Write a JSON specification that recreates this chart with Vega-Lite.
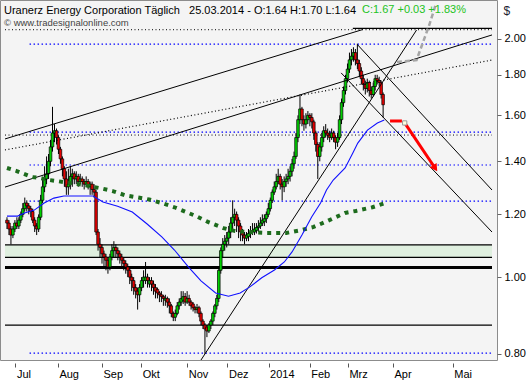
{
"$schema":"https://vega.github.io/schema/vega-lite/v6.json",
"width":497,"height":360,
"autosize":{"type":"none"},
"padding":{"left":0,"top":0,"right":34,"bottom":20},
"background":"white",
"config":{"view":{"fill":"#f4f4f4","stroke":"#8c8c8c","strokeWidth":1},"font":"Liberation Sans"},
"title":{"text":"\u00a0\u00a0\u00a0\u00a0Uranerz Energy Corporation Täglich\u00a0\u00a0 25.03.2014 - O:1.64 H:1.70 L:1.64","subtitle":"© www.tradesignalonline.com","anchor":"start","orient":"top","frame":"group","offset":0,"dx":4,"dy":27,"font":"Liberation Sans","fontSize":11,"fontWeight":"normal","color":"#000000","subtitleFont":"Liberation Sans","subtitleFontSize":9.5,"subtitleColor":"#444444","subtitlePadding":2},
"datasets":{
"bars":[
{"i":0,"o":1.18,"h":1.19,"l":1.15,"c":1.17},{"i":1,"o":1.17,"h":1.18,"l":1.13,"c":1.15},{"i":2,"o":1.15,"h":1.16,"l":1.10,"c":1.13},{"i":3,"o":1.13,"h":1.16,"l":1.12,"c":1.15},{"i":4,"o":1.15,"h":1.18,"l":1.14,"c":1.17},{"i":5,"o":1.17,"h":1.19,"l":1.15,"c":1.16},{"i":6,"o":1.16,"h":1.19,"l":1.15,"c":1.18},{"i":7,"o":1.18,"h":1.21,"l":1.17,"c":1.20},{"i":8,"o":1.20,"h":1.24,"l":1.19,"c":1.22},{"i":9,"o":1.22,"h":1.26,"l":1.21,"c":1.24},
{"i":10,"o":1.24,"h":1.25,"l":1.21,"c":1.23},{"i":11,"o":1.23,"h":1.24,"l":1.20,"c":1.22},{"i":12,"o":1.22,"h":1.23,"l":1.19,"c":1.21},{"i":13,"o":1.21,"h":1.22,"l":1.17,"c":1.18},{"i":14,"o":1.18,"h":1.19,"l":1.14,"c":1.16},{"i":15,"o":1.16,"h":1.17,"l":1.13,"c":1.15},{"i":16,"o":1.15,"h":1.20,"l":1.14,"c":1.19},{"i":17,"o":1.19,"h":1.27,"l":1.18,"c":1.25},{"i":18,"o":1.25,"h":1.33,"l":1.24,"c":1.30},{"i":19,"o":1.30,"h":1.38,"l":1.28,"c":1.33},
{"i":20,"o":1.33,"h":1.42,"l":1.31,"c":1.35},{"i":21,"o":1.35,"h":1.43,"l":1.33,"c":1.40},{"i":22,"o":1.40,"h":1.49,"l":1.38,"c":1.46},{"i":23,"o":1.46,"h":1.64,"l":1.44,"c":1.52},{"i":24,"o":1.52,"h":1.56,"l":1.48,"c":1.53},{"i":25,"o":1.53,"h":1.54,"l":1.47,"c":1.50},{"i":26,"o":1.50,"h":1.51,"l":1.43,"c":1.45},{"i":27,"o":1.45,"h":1.46,"l":1.39,"c":1.41},{"i":28,"o":1.41,"h":1.42,"l":1.34,"c":1.37},{"i":29,"o":1.37,"h":1.38,"l":1.30,"c":1.33},
{"i":30,"o":1.33,"h":1.36,"l":1.27,"c":1.30},{"i":31,"o":1.30,"h":1.37,"l":1.27,"c":1.31},{"i":32,"o":1.31,"h":1.38,"l":1.29,"c":1.34},{"i":33,"o":1.34,"h":1.37,"l":1.30,"c":1.35},{"i":34,"o":1.35,"h":1.36,"l":1.31,"c":1.33},{"i":35,"o":1.33,"h":1.36,"l":1.31,"c":1.34},{"i":36,"o":1.34,"h":1.35,"l":1.30,"c":1.32},{"i":37,"o":1.32,"h":1.35,"l":1.31,"c":1.33},{"i":38,"o":1.33,"h":1.34,"l":1.30,"c":1.32},{"i":39,"o":1.32,"h":1.33,"l":1.29,"c":1.31},
{"i":40,"o":1.31,"h":1.34,"l":1.30,"c":1.32},{"i":41,"o":1.32,"h":1.33,"l":1.29,"c":1.30},{"i":42,"o":1.30,"h":1.32,"l":1.27,"c":1.31},{"i":43,"o":1.31,"h":1.32,"l":1.27,"c":1.29},{"i":44,"o":1.29,"h":1.31,"l":1.26,"c":1.28},{"i":45,"o":1.28,"h":1.29,"l":1.13,"c":1.14},{"i":46,"o":1.14,"h":1.15,"l":1.08,"c":1.10},{"i":47,"o":1.10,"h":1.12,"l":1.06,"c":1.09},{"i":48,"o":1.09,"h":1.10,"l":1.04,"c":1.07},{"i":49,"o":1.07,"h":1.08,"l":1.03,"c":1.06},
{"i":50,"o":1.06,"h":1.07,"l":1.02,"c":1.05},{"i":51,"o":1.05,"h":1.06,"l":1.01,"c":1.03},{"i":52,"o":1.03,"h":1.07,"l":1.02,"c":1.06},{"i":53,"o":1.06,"h":1.10,"l":1.05,"c":1.08},{"i":54,"o":1.08,"h":1.11,"l":1.06,"c":1.09},{"i":55,"o":1.09,"h":1.10,"l":1.06,"c":1.08},{"i":56,"o":1.08,"h":1.09,"l":1.05,"c":1.07},{"i":57,"o":1.07,"h":1.08,"l":1.04,"c":1.06},{"i":58,"o":1.06,"h":1.07,"l":1.03,"c":1.05},{"i":59,"o":1.05,"h":1.06,"l":1.02,"c":1.04},
{"i":60,"o":1.04,"h":1.05,"l":1.01,"c":1.03},{"i":61,"o":1.03,"h":1.04,"l":1.00,"c":1.02},{"i":62,"o":1.02,"h":1.03,"l":0.98,"c":1.00},{"i":63,"o":1.00,"h":1.01,"l":0.96,"c":0.99},{"i":64,"o":0.99,"h":1.00,"l":0.95,"c":0.97},{"i":65,"o":0.97,"h":0.98,"l":0.94,"c":0.96},{"i":66,"o":0.96,"h":0.97,"l":0.91,"c":0.95},{"i":67,"o":0.95,"h":0.98,"l":0.93,"c":0.97},{"i":68,"o":0.97,"h":1.00,"l":0.96,"c":0.99},{"i":69,"o":0.99,"h":1.02,"l":0.97,"c":1.00},
{"i":70,"o":0.99,"h":1.045,"l":0.98,"c":1.00},{"i":71,"o":1.00,"h":1.01,"l":0.97,"c":0.99},{"i":72,"o":0.98,"h":1.00,"l":0.97,"c":0.99},{"i":73,"o":0.99,"h":1.00,"l":0.96,"c":0.98},{"i":74,"o":0.98,"h":0.99,"l":0.95,"c":0.97},{"i":75,"o":0.97,"h":0.98,"l":0.94,"c":0.96},{"i":76,"o":0.965,"h":0.97,"l":0.94,"c":0.955},{"i":77,"o":0.955,"h":0.96,"l":0.93,"c":0.95},{"i":78,"o":0.95,"h":0.96,"l":0.93,"c":0.945},{"i":79,"o":0.945,"h":0.95,"l":0.92,"c":0.94},
{"i":80,"o":0.935,"h":0.95,"l":0.92,"c":0.94},{"i":81,"o":0.94,"h":0.945,"l":0.915,"c":0.93},{"i":82,"o":0.93,"h":0.94,"l":0.90,"c":0.92},{"i":83,"o":0.92,"h":0.925,"l":0.89,"c":0.90},{"i":84,"o":0.90,"h":0.905,"l":0.88,"c":0.89},{"i":85,"o":0.89,"h":0.91,"l":0.88,"c":0.90},{"i":86,"o":0.90,"h":0.93,"l":0.895,"c":0.92},{"i":87,"o":0.92,"h":0.94,"l":0.91,"c":0.93},{"i":88,"o":0.93,"h":0.96,"l":0.92,"c":0.94},{"i":89,"o":0.935,"h":0.96,"l":0.925,"c":0.945},
{"i":90,"o":0.945,"h":0.955,"l":0.92,"c":0.93},{"i":91,"o":0.93,"h":0.96,"l":0.925,"c":0.94},{"i":92,"o":0.94,"h":0.95,"l":0.92,"c":0.93},{"i":93,"o":0.93,"h":0.935,"l":0.91,"c":0.92},{"i":94,"o":0.925,"h":0.93,"l":0.905,"c":0.915},{"i":95,"o":0.915,"h":0.92,"l":0.90,"c":0.91},{"i":96,"o":0.91,"h":0.925,"l":0.90,"c":0.915},{"i":97,"o":0.915,"h":0.92,"l":0.89,"c":0.90},{"i":98,"o":0.90,"h":0.905,"l":0.87,"c":0.88},{"i":99,"o":0.88,"h":0.885,"l":0.86,"c":0.87},
{"i":100,"o":0.87,"h":0.875,"l":0.80,"c":0.86},{"i":101,"o":0.865,"h":0.87,"l":0.84,"c":0.855},{"i":102,"o":0.855,"h":0.875,"l":0.85,"c":0.87},{"i":103,"o":0.87,"h":0.885,"l":0.86,"c":0.88},{"i":104,"o":0.88,"h":0.905,"l":0.87,"c":0.90},{"i":105,"o":0.90,"h":0.925,"l":0.89,"c":0.92},{"i":106,"o":0.92,"h":0.95,"l":0.91,"c":0.94},{"i":107,"o":0.94,"h":1.03,"l":0.93,"c":1.02},{"i":108,"o":1.02,"h":1.09,"l":1.01,"c":1.08},{"i":109,"o":1.08,"h":1.12,"l":1.06,"c":1.10},
{"i":110,"o":1.10,"h":1.13,"l":1.08,"c":1.11},{"i":111,"o":1.11,"h":1.14,"l":1.09,"c":1.12},{"i":112,"o":1.12,"h":1.16,"l":1.10,"c":1.14},{"i":113,"o":1.14,"h":1.19,"l":1.12,"c":1.17},{"i":114,"o":1.17,"h":1.25,"l":1.15,"c":1.19},{"i":115,"o":1.19,"h":1.22,"l":1.16,"c":1.20},{"i":116,"o":1.20,"h":1.21,"l":1.14,"c":1.18},{"i":117,"o":1.18,"h":1.19,"l":1.12,"c":1.16},{"i":118,"o":1.16,"h":1.17,"l":1.11,"c":1.14},{"i":119,"o":1.14,"h":1.15,"l":1.11,"c":1.13},
{"i":120,"o":1.13,"h":1.14,"l":1.10,"c":1.12},{"i":121,"o":1.12,"h":1.14,"l":1.11,"c":1.13},{"i":122,"o":1.125,"h":1.15,"l":1.11,"c":1.135},{"i":123,"o":1.135,"h":1.16,"l":1.12,"c":1.14},{"i":124,"o":1.145,"h":1.17,"l":1.13,"c":1.14},{"i":125,"o":1.14,"h":1.17,"l":1.13,"c":1.15},{"i":126,"o":1.145,"h":1.17,"l":1.135,"c":1.155},{"i":127,"o":1.155,"h":1.18,"l":1.14,"c":1.16},{"i":128,"o":1.16,"h":1.19,"l":1.15,"c":1.17},{"i":129,"o":1.17,"h":1.20,"l":1.16,"c":1.18},
{"i":130,"o":1.175,"h":1.20,"l":1.16,"c":1.185},{"i":131,"o":1.185,"h":1.21,"l":1.17,"c":1.20},{"i":132,"o":1.20,"h":1.24,"l":1.19,"c":1.22},{"i":133,"o":1.22,"h":1.26,"l":1.21,"c":1.25},{"i":134,"o":1.25,"h":1.29,"l":1.24,"c":1.28},{"i":135,"o":1.28,"h":1.32,"l":1.27,"c":1.30},{"i":136,"o":1.30,"h":1.35,"l":1.29,"c":1.32},{"i":137,"o":1.32,"h":1.37,"l":1.31,"c":1.34},{"i":138,"o":1.34,"h":1.35,"l":1.29,"c":1.31},{"i":139,"o":1.31,"h":1.33,"l":1.25,"c":1.30},
{"i":140,"o":1.30,"h":1.34,"l":1.28,"c":1.32},{"i":141,"o":1.32,"h":1.35,"l":1.30,"c":1.33},{"i":142,"o":1.33,"h":1.37,"l":1.31,"c":1.34},{"i":143,"o":1.34,"h":1.38,"l":1.32,"c":1.36},{"i":144,"o":1.36,"h":1.41,"l":1.34,"c":1.39},{"i":145,"o":1.39,"h":1.44,"l":1.37,"c":1.42},{"i":146,"o":1.42,"h":1.52,"l":1.41,"c":1.50},{"i":147,"o":1.50,"h":1.60,"l":1.48,"c":1.58},{"i":148,"o":1.58,"h":1.70,"l":1.56,"c":1.63},{"i":149,"o":1.63,"h":1.64,"l":1.55,"c":1.58},
{"i":150,"o":1.58,"h":1.60,"l":1.53,"c":1.56},{"i":151,"o":1.56,"h":1.61,"l":1.54,"c":1.58},{"i":152,"o":1.58,"h":1.62,"l":1.56,"c":1.60},{"i":153,"o":1.60,"h":1.61,"l":1.55,"c":1.59},{"i":154,"o":1.59,"h":1.61,"l":1.54,"c":1.57},{"i":155,"o":1.57,"h":1.58,"l":1.49,"c":1.52},{"i":156,"o":1.52,"h":1.53,"l":1.44,"c":1.47},{"i":157,"o":1.47,"h":1.48,"l":1.33,"c":1.42},{"i":158,"o":1.42,"h":1.48,"l":1.40,"c":1.46},{"i":159,"o":1.46,"h":1.52,"l":1.44,"c":1.50},
{"i":160,"o":1.50,"h":1.55,"l":1.48,"c":1.53},{"i":161,"o":1.53,"h":1.56,"l":1.50,"c":1.52},{"i":162,"o":1.52,"h":1.54,"l":1.49,"c":1.51},{"i":163,"o":1.51,"h":1.53,"l":1.48,"c":1.50},{"i":164,"o":1.50,"h":1.54,"l":1.49,"c":1.52},{"i":165,"o":1.52,"h":1.53,"l":1.48,"c":1.50},{"i":166,"o":1.50,"h":1.51,"l":1.45,"c":1.48},{"i":167,"o":1.48,"h":1.52,"l":1.46,"c":1.50},{"i":168,"o":1.50,"h":1.60,"l":1.49,"c":1.58},{"i":169,"o":1.58,"h":1.68,"l":1.56,"c":1.66},
{"i":170,"o":1.66,"h":1.74,"l":1.64,"c":1.72},{"i":171,"o":1.72,"h":1.80,"l":1.70,"c":1.78},{"i":172,"o":1.78,"h":1.86,"l":1.76,"c":1.83},{"i":173,"o":1.83,"h":1.92,"l":1.81,"c":1.88},{"i":174,"o":1.88,"h":1.94,"l":1.85,"c":1.90},{"i":175,"o":1.90,"h":1.95,"l":1.87,"c":1.92},{"i":176,"o":1.92,"h":1.94,"l":1.85,"c":1.88},{"i":177,"o":1.88,"h":1.97,"l":1.83,"c":1.86},{"i":178,"o":1.86,"h":1.88,"l":1.79,"c":1.82},{"i":179,"o":1.82,"h":1.84,"l":1.75,"c":1.78},
{"i":180,"o":1.78,"h":1.80,"l":1.72,"c":1.75},{"i":181,"o":1.75,"h":1.77,"l":1.70,"c":1.73},{"i":182,"o":1.73,"h":1.78,"l":1.71,"c":1.76},{"i":183,"o":1.76,"h":1.77,"l":1.69,"c":1.72},{"i":184,"o":1.72,"h":1.74,"l":1.68,"c":1.70},{"i":185,"o":1.70,"h":1.76,"l":1.69,"c":1.74},{"i":186,"o":1.74,"h":1.80,"l":1.72,"c":1.78},{"i":187,"o":1.78,"h":1.80,"l":1.75,"c":1.77},{"i":188,"o":1.77,"h":1.79,"l":1.74,"c":1.76},{"i":189,"o":1.76,"h":1.77,"l":1.68,"c":1.70},
{"i":190,"o":1.70,"h":1.71,"l":1.59,"c":1.65}
],
"blue":[
{"i":0,"p":1.194},{"i":5.4,"p":1.194},{"i":8.9,"p":1.205},{"i":13.8,"p":1.215},{"i":18.8,"p":1.240},{"i":23.7,"p":1.258},{"i":28.7,"p":1.266},{"i":43.5,"p":1.266},{"i":48.5,"p":1.244},{"i":55.9,"p":1.229},{"i":63.3,"p":1.208},{"i":70.8,"p":1.167},{"i":78.2,"p":1.124},{"i":84.6,"p":1.082},{"i":91.6,"p":1.030},{"i":98.0,"p":0.989},{"i":105.4,"p":0.955},{"i":111.9,"p":0.946},{"i":117.8,"p":0.955},{"i":122.7,"p":0.972},{"i":128.7,"p":0.998},{"i":135.1,"p":1.021},{"i":140.1,"p":1.045},{"i":144.0,"p":1.076},{"i":149.0,"p":1.130},{"i":153.9,"p":1.191},{"i":158.4,"p":1.240},{"i":161.4,"p":1.288},{"i":164.8,"p":1.326},{"i":170.8,"p":1.373},{"i":174.7,"p":1.434},{"i":177.2,"p":1.476},{"i":182.1,"p":1.533},{"i":187.1,"p":1.565},{"i":190.6,"p":1.578}
],
"green":[
{"i":0,"p":1.373},{"i":4.9,"p":1.361},{"i":8.9,"p":1.349},{"i":12.9,"p":1.337},{"i":17.3,"p":1.333},{"i":21.3,"p":1.326},{"i":25.2,"p":1.322},{"i":32.2,"p":1.314},{"i":38.6,"p":1.307},{"i":47.0,"p":1.295},{"i":53.4,"p":1.284},{"i":59.9,"p":1.268},{"i":65.8,"p":1.261},{"i":71.8,"p":1.253},{"i":78.2,"p":1.240},{"i":84.6,"p":1.225},{"i":88.1,"p":1.215},{"i":95.5,"p":1.194},{"i":101.5,"p":1.174},{"i":109.4,"p":1.153},{"i":115.3,"p":1.143},{"i":121.3,"p":1.140},{"i":131.2,"p":1.137},{"i":141.1,"p":1.137},{"i":149.0,"p":1.147},{"i":154.9,"p":1.157},{"i":160.9,"p":1.174},{"i":170.8,"p":1.205},{"i":176.2,"p":1.212},{"i":184.6,"p":1.225},{"i":191.1,"p":1.240}
],
"hl":[
{"k":"thin","p":2.06,"a":174.7,"b":245},
{"k":"kdot","p":2.052,"a":-1,"b":245},
{"k":"kdot","p":1.511,"a":-1,"b":245},
{"k":"bdot","p":1.968,"a":11.4,"b":245},
{"k":"bdot","p":1.524,"a":11.4,"b":245},
{"k":"bdot","p":1.385,"a":11.4,"b":245},
{"k":"bdot","p":1.247,"a":11.4,"b":245},
{"k":"bdot","p":0.802,"a":11.4,"b":245},
{"k":"thin","p":1.098,"a":-1,"b":245},
{"k":"thin","p":1.059,"a":-1,"b":245},
{"k":"thick","p":1.028,"a":-1,"b":245},
{"k":"thin","p":0.870,"a":-1,"b":245}
],
"band":[{"lo":1.059,"hi":1.098,"a":-1,"b":245}],
"seg":[
{"g":"L1","k":"solid","i":-1,"p":1.494},{"g":"L1","k":"solid","i":179.7,"p":2.053},
{"g":"L2","k":"solid","i":-1,"p":1.299},{"g":"L2","k":"solid","i":245,"p":2.021},
{"g":"S1","k":"solid","i":98.0,"p":0.786},{"g":"S1","k":"solid","i":206.9,"p":2.05},
{"g":"D1","k":"solid","i":177.2,"p":1.963},{"g":"D1","k":"solid","i":245,"p":1.288},
{"g":"D2","k":"solid","i":168.8,"p":1.81},{"g":"D2","k":"solid","i":245,"p":1.14},
{"g":"LD","k":"dot","i":-1,"p":1.447},{"g":"LD","k":"dot","i":245,"p":1.879}
],
"red":[
{"g":"h","i":193.5,"p":1.574},{"g":"h","i":199.5,"p":1.574},
{"g":"d","i":200.9,"p":1.565},{"g":"d","i":216.3,"p":1.372}
],
"grey":[{"i":197,"p":1.868},{"i":206.9,"p":1.879},{"i":213.3,"p":2.08},{"i":216.8,"p":2.217}]
},
"layer":[
{"data":{"name":"band"},"mark":{"type":"rect","fill":"#dfefdf","clip":true},
 "encoding":{"x":{"field":"a","type":"quantitative","scale":{"domain":[-1,245],"nice":false,"zero":false},
   "axis":{"orient":"bottom","values":[4.3,25.73,48.0,67.8,91.07,111.36,132.15,152.94,172.24,195.01,225.2],"labelExpr":"['Jul','Aug','Sep','Okt','Nov','Dez','2014','Feb','Mrz','Apr','Mai'][indexof([4.3,25.73,48.0,67.8,91.07,111.36,132.15,152.94,172.24,195.01,225.2], datum.value)]","labelAlign":"left","labelFlush":false,"labelOverlap":false,"labelOffset":1,"labelFont":"Liberation Sans","labelFontSize":11,"labelColor":"#000","tickSize":4,"tickColor":"#555","offset":3,"domain":false,"grid":false,"title":null,"labelPadding":1}},
  "x2":{"field":"b"},
  "y":{"field":"lo","type":"quantitative","scale":{"type":"log","domain":[0.786,2.237],"nice":false,"zero":false},
   "axis":{"orient":"right","values":[0.8,1,1.2,1.4,1.6,1.8,2],"format":".2f","labelFont":"Liberation Sans","labelFontSize":11,"labelColor":"#000","tickSize":4,"tickColor":"#666","domain":false,"grid":false,"labelFlush":false,"labelOverlap":false,"labelPadding":3,"title":"$","titleAngle":0,"titleX":6,"titleY":10,"titleAlign":"left","titleBaseline":"middle","titleFont":"Liberation Sans","titleFontSize":12,"titleFontWeight":"normal","titleColor":"#223"}},
  "y2":{"field":"hi"}}},
{"data":{"name":"hl"},"transform":[{"filter":"datum.k=='thin'"}],"mark":{"type":"rule","color":"#000","strokeWidth":1.3,"clip":true},
 "encoding":{"x":{"field":"a","type":"quantitative"},"x2":{"field":"b"},"y":{"field":"p","type":"quantitative"}}},
{"data":{"name":"hl"},"transform":[{"filter":"datum.k=='thick'"}],"mark":{"type":"rule","color":"#000","strokeWidth":3,"clip":true},
 "encoding":{"x":{"field":"a","type":"quantitative"},"x2":{"field":"b"},"y":{"field":"p","type":"quantitative"}}},
{"data":{"name":"hl"},"transform":[{"filter":"datum.k=='kdot'"}],"mark":{"type":"rule","color":"#000","strokeWidth":1,"strokeDash":[1,2.5],"clip":true},
 "encoding":{"x":{"field":"a","type":"quantitative"},"x2":{"field":"b"},"y":{"field":"p","type":"quantitative"}}},
{"data":{"name":"hl"},"transform":[{"filter":"datum.k=='bdot'"}],"mark":{"type":"rule","color":"#0000ff","strokeWidth":1.2,"strokeDash":[1.5,2.5],"clip":true},
 "encoding":{"x":{"field":"a","type":"quantitative"},"x2":{"field":"b"},"y":{"field":"p","type":"quantitative"}}},
{"data":{"name":"bars"},"mark":{"type":"rule","color":"#000","strokeWidth":1,"clip":true},
 "encoding":{"x":{"field":"i","type":"quantitative"},"y":{"field":"l","type":"quantitative"},"y2":{"field":"h"}}},
{"data":{"name":"bars"},"mark":{"type":"bar","size":2.6,"stroke":"#000","strokeWidth":0.7,"clip":true},
 "encoding":{"x":{"field":"i","type":"quantitative"},"y":{"field":"o","type":"quantitative"},"y2":{"field":"c"},
  "fill":{"condition":{"test":"datum.c >= datum.o","value":"#00d000"},"value":"#e60000"}}},
{"data":{"name":"seg"},"transform":[{"filter":"datum.k=='solid'"}],"mark":{"type":"line","color":"#000","strokeWidth":1,"clip":true},
 "encoding":{"x":{"field":"i","type":"quantitative"},"y":{"field":"p","type":"quantitative"},"detail":{"field":"g"},"order":{"field":"i"}}},
{"data":{"name":"seg"},"transform":[{"filter":"datum.k=='dot'"}],"mark":{"type":"line","color":"#000","strokeWidth":1.2,"strokeDash":[1,2.5],"clip":true},
 "encoding":{"x":{"field":"i","type":"quantitative"},"y":{"field":"p","type":"quantitative"},"detail":{"field":"g"},"order":{"field":"i"}}},
{"data":{"name":"green"},"mark":{"type":"line","color":"#1d6b1d","strokeWidth":4,"strokeDash":[4,5],"clip":true},
 "encoding":{"x":{"field":"i","type":"quantitative"},"y":{"field":"p","type":"quantitative"},"order":{"field":"i"}}},
{"data":{"name":"blue"},"mark":{"type":"line","color":"#1010ff","strokeWidth":1.1,"clip":true},
 "encoding":{"x":{"field":"i","type":"quantitative"},"y":{"field":"p","type":"quantitative"},"order":{"field":"i"}}},
{"data":{"name":"grey"},"mark":{"type":"line","color":"#a6a6a6","strokeWidth":2.5,"strokeDash":[5,3],"clip":true},
 "encoding":{"x":{"field":"i","type":"quantitative"},"y":{"field":"p","type":"quantitative"},"order":{"field":"i"}}},
{"data":{"name":"red"},"mark":{"type":"line","color":"#ff0000","strokeWidth":3,"clip":true},
 "encoding":{"x":{"field":"i","type":"quantitative"},"y":{"field":"p","type":"quantitative"},"detail":{"field":"g"},"order":{"field":"i"}}},
{"data":{"name":"red"},"transform":[{"filter":"datum.g=='d' && datum.i > 210"}],"mark":{"type":"point","shape":"triangle-down","filled":true,"color":"#ff0000","size":70,"angle":326,"opacity":1},
 "encoding":{"x":{"field":"i","type":"quantitative"},"y":{"field":"p","type":"quantitative"}}},
{"data":{"name":"red"},"transform":[{"filter":"datum.g=='d' && datum.i < 210"}],"mark":{"type":"square","size":18,"fill":"#ffffe0","stroke":"#999","strokeWidth":1,"opacity":1},
 "encoding":{"x":{"field":"i","type":"quantitative"},"y":{"field":"p","type":"quantitative"}}},
{"data":{"values":[{"t":"C:1.67 +0.03 +1.83%"}]},"mark":{"type":"text","color":"#22c322","font":"Liberation Sans","fontSize":11,"align":"left","baseline":"middle"},
 "encoding":{"text":{"field":"t"},"x":{"value":362},"y":{"value":10}}}
]
}
